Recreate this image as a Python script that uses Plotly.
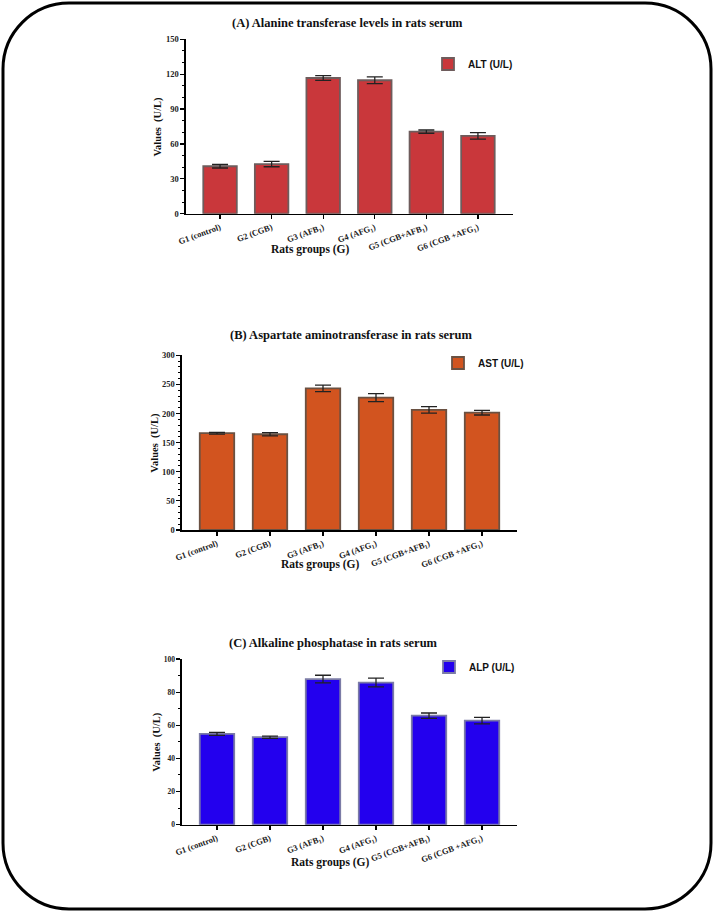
import plotly.graph_objects as go

W, H = 714, 912

groups = ["G1 (control)", "G2 (CGB)", "G3 (AFB<sub>1</sub>)", "G4 (AFG<sub>1</sub>)",
          "G5 (CGB+AFB<sub>1</sub>)", "G6 (CGB +AFG<sub>1</sub>)"]

alt_values = [40.8, 42.7, 116.7, 114.8, 70.6, 66.9]
alt_errors = [1.5, 2.3, 2.1, 2.9, 1.4, 2.8]

ast_values = [166.2, 164.4, 243.3, 227.3, 206.2, 201.5]
ast_errors = [1.6, 2.8, 5.6, 6.8, 5.5, 4.0]

alp_values = [54.8, 52.8, 87.9, 85.8, 65.8, 62.8]
alp_errors = [0.9, 0.7, 2.3, 2.6, 1.6, 2.0]

titles = ["(A) Alanine transferase levels in rats serum",
          "(B) Aspartate aminotransferase in rats serum",
          "(C) Alkaline phosphatase in rats serum"]
legend_names = ["ALT (U/L)", "AST (U/L)", "ALP (U/L)"]
y_ranges = [[0, 150], [0, 300], [0, 100]]
y_dticks = [30, 50, 20]


def px(x):
    return x / W


def py(y):
    return 1 - y / H


SERIF = "Liberation Serif"
SANS = "Liberation Sans"

panels = [
    dict(vals=alt_values, errs=alt_errors, color="#C9373B", line="#6E5C5C",
         xdom=[186, 513], ydom=[39.3, 213.7], xr=[-0.66, 5.68],
         title_xy=(347, 23), ytitle_x=158, xtitle_xy=(310, 249),
         leg_xy=(449, 64), tickfont=8.5),
    dict(vals=ast_values, errs=ast_errors, color="#D2541F", line="#6A5142",
         xdom=[182, 517], ydom=[355.3, 530], xr=[-0.66, 5.66],
         title_xy=(351, 335), ytitle_x=155, xtitle_xy=(320, 564),
         leg_xy=(459, 363), tickfont=8.5),
    dict(vals=alp_values, errs=alp_errors, color="#2300EE", line="#7B7BA6",
         xdom=[182, 517], ydom=[659, 824.7], xr=[-0.66, 5.66],
         title_xy=(333, 643), ytitle_x=157, xtitle_xy=(330, 862),
         leg_xy=(450, 667), tickfont=7.5),
]

fig = go.Figure()
annotations = []
layout = {}

for i, p in enumerate(panels):
    n = "" if i == 0 else str(i + 1)
    leg = "legend" if i == 0 else "legend" + str(i + 1)
    fig.add_trace(go.Bar(
        x=groups, y=p["vals"], name=legend_names[i],
        xaxis="x" + n, yaxis="y" + n, legend=leg,
        width=0.65, hoverinfo="skip",
        marker=dict(color=p["color"], line=dict(color=p["line"], width=1.8)),
        error_y=dict(type="data", array=p["errs"], visible=True,
                     color="#222222", thickness=1.3, width=8),
    ))
    layout["xaxis" + n] = dict(
        domain=[px(p["xdom"][0]), px(p["xdom"][1])],
        anchor="y" + n, range=p["xr"], type="category", automargin=False,
        showline=True, linecolor="black", linewidth=1.6,
        ticks="outside", ticklen=4, tickwidth=1.2, tickcolor="black",
        tickangle=-20, showgrid=False, zeroline=False,
        tickfont=dict(family=SERIF, size=8.5, color="#222", weight="bold"),
    )
    layout["yaxis" + n] = dict(
        domain=[py(p["ydom"][1]), py(p["ydom"][0])],
        anchor="x" + n, range=y_ranges[i], dtick=y_dticks[i], automargin=False,
        showline=True, linecolor="black", linewidth=1.6,
        ticks="outside", ticklen=4, tickwidth=1.2, tickcolor="black",
        minor=dict(dtick=10, ticks="outside", ticklen=2.5, tickwidth=1, tickcolor="black"),
        showgrid=False, zeroline=False,
        tickfont=dict(family=SERIF, size=p["tickfont"], color="#222", weight="bold"),
    )
    layout[leg] = dict(
        x=px(p["leg_xy"][0] - 21), y=py(p["leg_xy"][1]),
        xanchor="left", yanchor="middle", bgcolor="rgba(0,0,0,0)",
        font=dict(family=SANS, size=10, color="#111", weight="bold"),
        itemwidth=30,
    )
    annotations.append(dict(
        text="<b>" + titles[i] + "</b>", x=px(p["title_xy"][0]), y=py(p["title_xy"][1]),
        xref="paper", yref="paper", showarrow=False, xanchor="center", yanchor="middle",
        font=dict(family=SERIF, size=12.5, color="#111")))
    annotations.append(dict(
        text="<b>Values  (U/L)</b>", x=px(p["ytitle_x"]),
        y=py((p["ydom"][0] + p["ydom"][1]) / 2),
        xref="paper", yref="paper", showarrow=False, textangle=-90,
        xanchor="center", yanchor="middle",
        font=dict(family=SERIF, size=10.5, color="#111")))
    annotations.append(dict(
        text="<b>Rats groups (G)</b>", x=px(p["xtitle_xy"][0]), y=py(p["xtitle_xy"][1]),
        xref="paper", yref="paper", showarrow=False, xanchor="center", yanchor="middle",
        font=dict(family=SERIF, size=11.5, color="#111")))

# rounded frame around the whole figure
L, T, R, B, r = 3, 3, 711, 909, 66
k = 0.5523 * r
path = (
    f"M {px(L + r)},{py(T)} L {px(R - r)},{py(T)} "
    f"C {px(R - r + k)},{py(T)} {px(R)},{py(T + r - k)} {px(R)},{py(T + r)} "
    f"L {px(R)},{py(B - r)} "
    f"C {px(R)},{py(B - r + k)} {px(R - r + k)},{py(B)} {px(R - r)},{py(B)} "
    f"L {px(L + r)},{py(B)} "
    f"C {px(L + r - k)},{py(B)} {px(L)},{py(B - r + k)} {px(L)},{py(B - r)} "
    f"L {px(L)},{py(T + r)} "
    f"C {px(L)},{py(T + r - k)} {px(L + r - k)},{py(T)} {px(L + r)},{py(T)} Z"
)

fig.update_layout(
    width=W, height=H,
    margin=dict(l=0, r=0, t=0, b=0, autoexpand=False),
    paper_bgcolor="white", plot_bgcolor="white",
    showlegend=True,
    annotations=annotations,
    shapes=[dict(type="path", path=path, xref="paper", yref="paper",
                 line=dict(color="black", width=3))],
    **layout,
)

fig.write_html(
    "out.html",
    config={"displayModeBar": False, "staticPlot": True},
    post_script="document.body.style.margin='0';document.body.style.padding='0';",
)
